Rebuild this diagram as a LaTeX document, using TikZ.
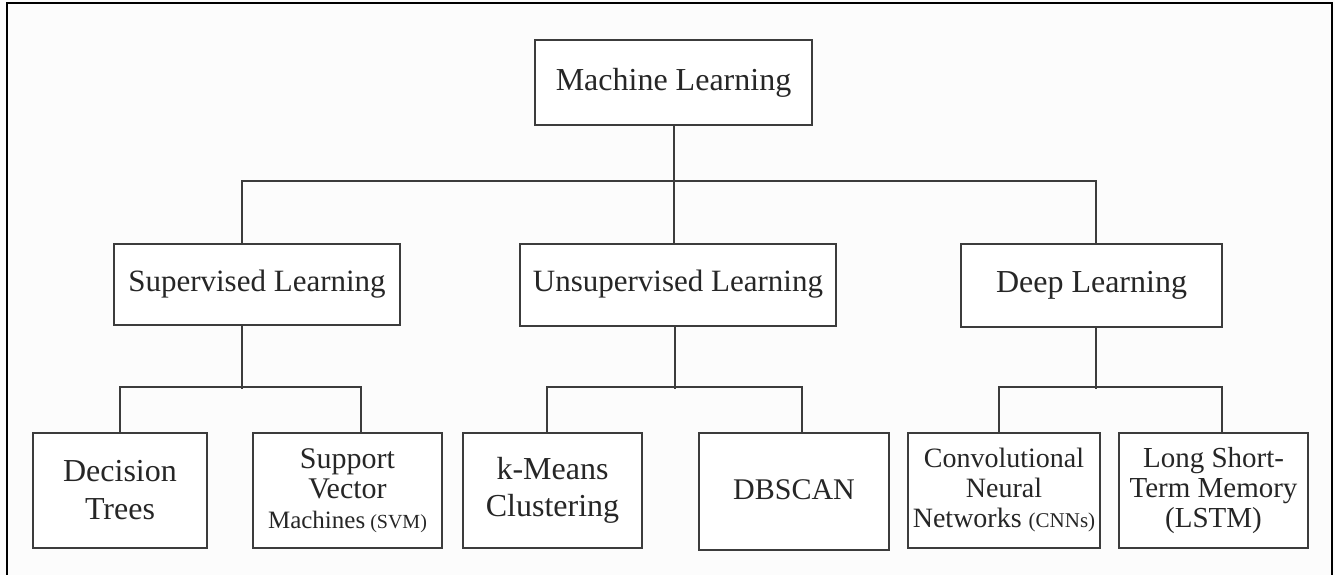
\documentclass[tikz,border=0pt]{standalone}
\usepackage{fontspec}
\setmainfont{Liberation Serif}
\definecolor{ink}{HTML}{262626}
\definecolor{edge}{HTML}{3C3C3C}
\definecolor{paper}{HTML}{FCFCFC}
\newcommand{\fs}[2]{\fontsize{#1}{#2}\selectfont}
\begin{document}
\begin{tikzpicture}[x=1pt,y=-1pt,
  box/.style={draw=edge,line width=2pt,fill=white,text=ink,inner sep=0pt,align=center},
  conn/.style={draw=edge,line width=2pt}]
\useasboundingbox (0,0) rectangle (1335,575);
\fill[paper] (0,0) rectangle (1335,575);
\draw[black,line width=2.5pt] (7,585) -- (7,3) -- (1332,3) -- (1332,585);
% level 0
\node[box,minimum width=277pt,minimum height=85pt,font=\fs{32}{38}] (ml) at (673.5,82.5) {Machine Learning};
% level 1
\node[box,minimum width=286pt,minimum height=81pt,font=\fs{31}{38}] (sup) at (257,284.5) {Supervised Learning};
\node[box,minimum width=316pt,minimum height=82pt,font=\fs{31}{38}] (uns) at (678,284.5) {Unsupervised Learning};
\node[box,minimum width=261pt,minimum height=83pt,font=\fs{32}{38}] (deep) at (1091.5,285.5) {Deep Learning};
% level 2
\node[box,minimum width=174pt,minimum height=115pt,font=\fs{32}{38}] (dt) at (120,490.5) {Decision\\Trees};
\node[box,minimum width=189pt,minimum height=115pt,font=\fs{30}{30}] (svm) at (347.5,490.5) {Support\\Vector\\{\fs{25}{30}Machines}\,{\fs{20}{30}(SVM)}};
\node[box,minimum width=179pt,minimum height=115pt,font=\fs{32}{37}] (km) at (552.5,490.5) {k-Means\\Clustering};
\node[box,minimum width=190pt,minimum height=117pt,font=\fs{30}{37}] (db) at (794,491.5) {\raisebox{4pt}{DBSCAN}};
\node[box,minimum width=192pt,minimum height=115pt,font=\fs{28}{30}] (cnn) at (1004,490.5) {Convolutional\\Neural\\Networks {\fs{21}{30}(CNNs)}};
\node[box,minimum width=189pt,minimum height=115pt,font=\fs{29}{30}] (lstm) at (1213.5,490.5) {Long Short-\\Term Memory\\(LSTM)};
% connectors level 0 -> 1
\draw[conn] (ml.south) -- (ml.south |- uns.north);
\draw[conn] ([xshift=-15pt]sup.north) -- ++(0,-62) coordinate (busL) -| ([xshift=4.5pt]deep.north);
% connectors level 1 -> 2
\draw[conn] ([xshift=-15pt]sup.south) -- ++(0,63);
\draw[conn] (dt.north) -- ++(0,-45) -| ([xshift=13.5pt]svm.north);
\draw[conn] ([xshift=-3pt]uns.south) -- ++(0,62);
\draw[conn] ([xshift=-5.5pt]km.north) -- ++(0,-45) -| ([xshift=8pt]db.north);
\draw[conn] ([xshift=4.5pt]deep.south) -- ++(0,61);
\draw[conn] ([xshift=-5pt]cnn.north) -- ++(0,-45) -| ([xshift=8.5pt]lstm.north);
\end{tikzpicture}
\end{document}
